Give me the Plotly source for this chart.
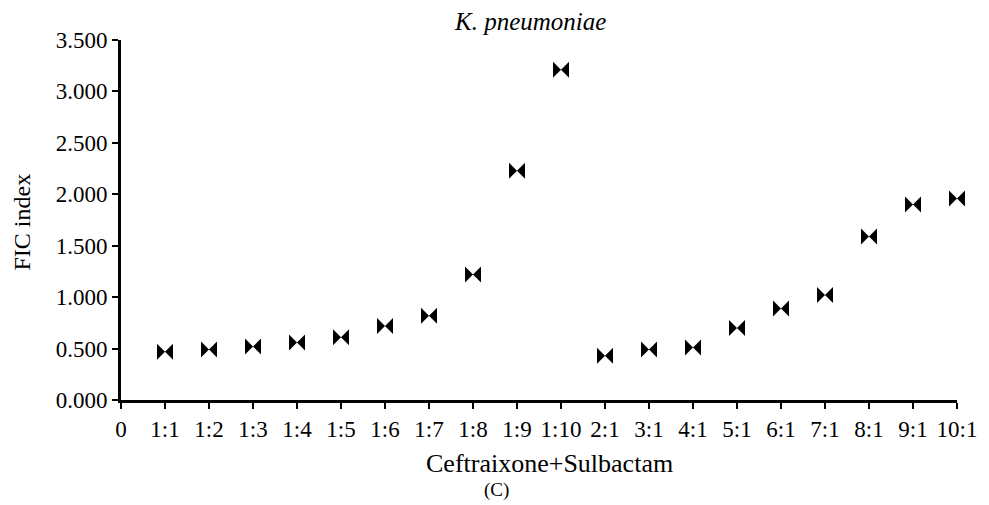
import plotly.graph_objects as go

tick_labels = ["0", "1:1", "1:2", "1:3", "1:4", "1:5", "1:6", "1:7", "1:8", "1:9", "1:10",
               "2:1", "3:1", "4:1", "5:1", "6:1", "7:1", "8:1", "9:1", "10:1"]
ratios = tick_labels[1:]
fic_index = [0.47, 0.49, 0.52, 0.56, 0.61, 0.72, 0.82, 1.22, 2.23, 3.21,
             0.43, 0.49, 0.51, 0.70, 0.89, 1.02, 1.59, 1.90, 1.96]

x_pos = list(range(1, len(ratios) + 1))

fig = go.Figure()
fig.add_trace(go.Scatter(
    x=x_pos, y=fic_index, mode="markers",
    marker=dict(symbol="bowtie", size=16, color="black", line=dict(width=0)),
    cliponaxis=False, showlegend=False,
))

font_family = "Liberation Serif, Times New Roman, serif"
fig.update_layout(
    width=981, height=497,
    margin=dict(l=113, r=32, t=32, b=105),
    plot_bgcolor="white", paper_bgcolor="white",
    font=dict(family=font_family, size=23, color="black"),
    xaxis=dict(
        range=[0, 19], tickvals=list(range(0, 20)), ticktext=tick_labels,
        showline=True, linecolor="black", linewidth=3,
        ticks="outside", ticklen=6, tickwidth=2, tickcolor="black",
        showgrid=False, zeroline=False,
        tickfont=dict(family=font_family, size=23),
    ),
    yaxis=dict(
        range=[0, 3.5], dtick=0.5, tick0=0, tickformat=".3f",
        showline=True, linecolor="black", linewidth=3,
        ticks="outside", ticklen=6, tickwidth=2, tickcolor="black",
        showgrid=False, zeroline=False,
        tickfont=dict(family=font_family, size=23),
    ),
    annotations=[
        dict(text="<i>K. pneumoniae</i>", xref="paper", yref="paper", x=0.489, y=1.05,
             showarrow=False, font=dict(family=font_family, size=25), xanchor="center", yanchor="middle"),
        dict(text="FIC index", xref="paper", yref="paper", x=-0.118, y=0.494, textangle=-90,
             showarrow=False, font=dict(family=font_family, size=24), xanchor="center", yanchor="middle"),
        dict(text="Ceftraixone+Sulbactam", xref="paper", yref="paper", x=0.513, y=-0.175,
             showarrow=False, font=dict(family=font_family, size=26), xanchor="center", yanchor="middle"),
        dict(text="(C)", xref="paper", yref="paper", x=0.449, y=-0.25,
             showarrow=False, font=dict(family=font_family, size=19), xanchor="center", yanchor="middle"),
    ],
)

fig.write_html("out.html")
